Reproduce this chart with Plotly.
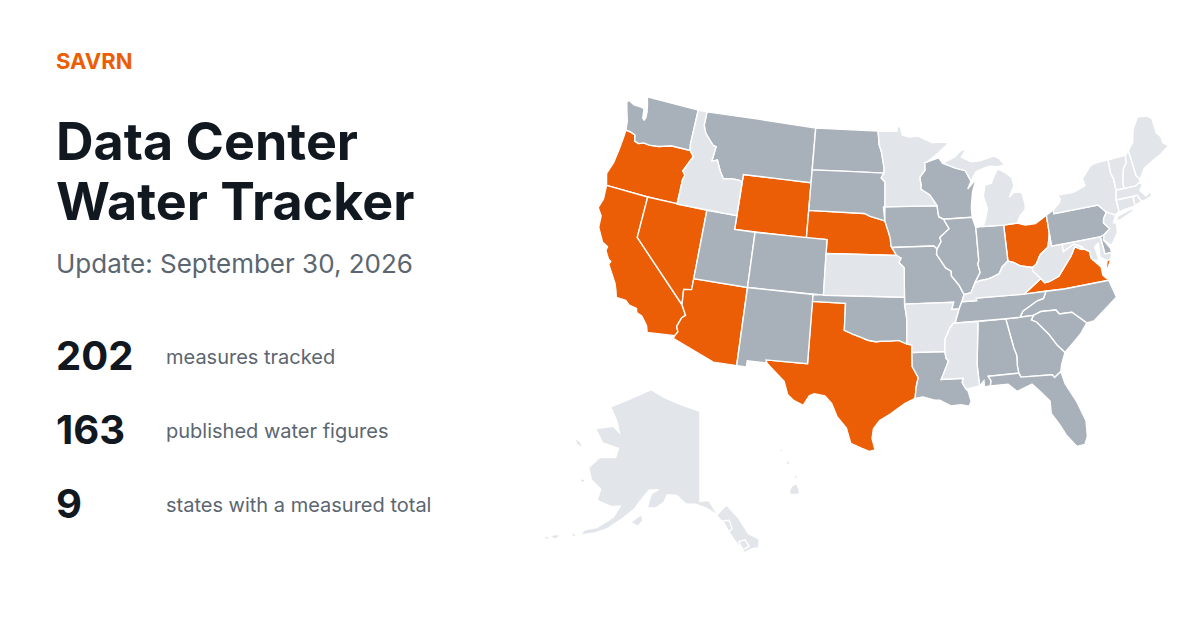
import plotly.graph_objects as go
from urllib.parse import quote

BRAND = "SAVRN"
TITLE_LINES = ["Data Center", "Water Tracker"]
UPDATE = "Update: September 30, 2026"
STAT_VALUES = ["202", "163", "9"]
STAT_LABELS = ["measures tracked", "published water figures", "states with a measured total"]

MEASURED = ["OR", "CA", "NV", "AZ", "WY", "NE", "TX", "OH", "VA"]
PUBLISHED = ["WA", "MT", "ND", "SD", "UT", "CO", "NM", "IA", "MO", "OK", "LA", "WI", "IL", "IN", "PA",
             "NC", "SC", "GA", "AL", "FL", "TN", "DE"]
OTHER = ["ID", "MN", "KS", "AR", "MS", "MI", "KY", "WV", "NY", "NJ", "CT", "RI", "MA", "VT", "NH", "ME", "MD"]

# State outlines, lon/lat
WA = [(-122.76,49),(-117.03,49),(-117.04,46.42),(-116.92,45.99),(-118.98,46),(-119.3,45.93),(-120.2,45.73),(-121.2,45.65),(-121.8,45.7),(-122.3,45.55),(-122.75,45.65),(-122.9,46.08),(-123.4,46.2),(-123.95,46.24),(-124.05,46.7),(-124.1,46.9),(-124.4,47.5),(-124.73,48.17),(-124.6,48.38),(-123.9,48.17),(-123.1,48.15),(-122.75,48.1),(-122.6,47.4),(-122.4,47.3),(-122.3,47.5),(-122.35,47.95),(-122.5,48.4)]
OR = [(-124.55,42.84),(-124.2,42),(-120,42),(-117.03,42),(-117.03,43.8),(-116.9,44.15),(-117.2,44.44),(-116.85,45),(-116.47,45.6),(-116.92,45.99),(-118.98,46),(-119.3,45.93),(-120.2,45.73),(-121.2,45.65),(-121.8,45.7),(-122.3,45.55),(-122.75,45.65),(-122.9,46.08),(-123.4,46.2),(-123.95,46.24),(-123.97,45.7),(-124.05,44.7),(-124.2,43.7)]
CA = [(-124.2,42),(-120,42),(-120,39),(-114.63,35),(-114.14,34.3),(-114.43,34.08),(-114.72,33.4),(-114.52,33.03),(-114.72,32.72),(-117.12,32.53),(-117.3,33),(-117.9,33.6),(-118.4,33.75),(-118.5,34.03),(-119.2,34.15),(-119.6,34.42),(-120.47,34.45),(-120.65,34.9),(-120.9,35.4),(-121.9,36.6),(-121.8,36.85),(-122.05,36.95),(-122.5,37.5),(-122.45,37.8),(-123,38),(-123.75,38.95),(-123.85,39.8),(-124.35,40.3),(-124.1,41)]
NV = [(-120,42),(-114.04,42),(-114.04,36.2),(-114.75,36.1),(-114.63,35),(-120,39)]
AZ = [(-114.04,37),(-109.05,37),(-109.05,31.33),(-111.07,31.33),(-114.81,32.5),(-114.72,32.72),(-114.52,33.03),(-114.72,33.4),(-114.43,34.08),(-114.14,34.3),(-114.63,35),(-114.75,36.1),(-114.04,36.2)]
UT = [(-114.04,42),(-111.05,42),(-111.05,41),(-109.05,41),(-109.05,37),(-114.04,37)]
ID = [(-117.03,49),(-116.05,49),(-116.05,48),(-115.7,47.45),(-114.7,46.7),(-114.35,46.65),(-114.5,45.55),(-113.95,45.7),(-113.45,44.95),(-113,44.45),(-112.3,44.55),(-111.5,44.55),(-111.05,44.48),(-111.05,42),(-117.03,42),(-117.03,43.8),(-116.9,44.15),(-117.2,44.44),(-116.85,45),(-116.47,45.6),(-116.92,45.99),(-117.04,46.42)]
MT = [(-116.05,49),(-104.05,49),(-104.05,45),(-111.05,45),(-111.05,44.48),(-111.5,44.55),(-112.3,44.55),(-113,44.45),(-113.45,44.95),(-113.95,45.7),(-114.5,45.55),(-114.35,46.65),(-114.7,46.7),(-115.7,47.45),(-116.05,48)]
WY = [(-111.05,45),(-104.05,45),(-104.05,41),(-111.05,41)]
CO = [(-109.05,41),(-102.05,41),(-102.05,37),(-109.05,37)]
NM = [(-109.05,37),(-103,37),(-103.04,32),(-106.62,32),(-106.53,31.78),(-108.21,31.78),(-108.21,31.33),(-109.05,31.33)]
ND = [(-104.05,49),(-97.23,49),(-97.1,48),(-96.85,47.5),(-96.55,46.3),(-96.56,45.94),(-104.05,45.94)]
SD = [(-104.05,45.94),(-96.56,45.94),(-96.85,45.6),(-96.45,45.3),(-96.45,43.5),(-96.6,43.5),(-96.45,42.49),(-97.9,42.8),(-98.5,43),(-104.05,43)]
NE = [(-104.05,43),(-98.5,43),(-97.9,42.8),(-96.45,42.49),(-96.1,41.7),(-95.9,41.2),(-95.85,40.7),(-95.31,40),(-102.05,40),(-102.05,41),(-104.05,41)]
KS = [(-102.05,40),(-95.31,40),(-94.9,39.8),(-95.1,39.5),(-94.61,39.11),(-94.62,37),(-102.05,37)]
OK = [(-103,37),(-94.62,37),(-94.62,36.5),(-94.43,35.4),(-94.48,33.64),(-95.2,33.9),(-96,33.85),(-96.6,33.85),(-97.2,33.8),(-97.9,33.9),(-98.5,34.1),(-99.2,34.3),(-100,34.56),(-100,36.5),(-103,36.5)]
TX = [(-103.04,36.5),(-100,36.5),(-100,34.56),(-99.2,34.3),(-98.5,34.1),(-97.9,33.9),(-97.2,33.8),(-96.6,33.85),(-96,33.85),(-95.2,33.9),(-94.48,33.64),(-94.04,33.55),(-94.04,33.02),(-94.04,32),(-93.55,31.2),(-93.75,30.5),(-93.85,29.7),(-94.7,29.35),(-95.1,29.1),(-95.9,28.6),(-96.8,28.1),(-97.3,27.5),(-97.4,26.8),(-97.15,25.96),(-97.6,25.85),(-98.2,26.05),(-99.1,26.4),(-99.5,27.5),(-100.3,28.3),(-100.8,29.25),(-101.4,29.77),(-102.3,29.88),(-102.7,29.7),(-103.15,28.98),(-104,29.3),(-104.5,29.65),(-104.9,30.6),(-106,31.4),(-106.53,31.78),(-106.62,32),(-103.04,32)]
MN = [(-97.23,49),(-95.15,49),(-95.15,49.38),(-94.8,49.3),(-94.6,48.7),(-93.8,48.55),(-92.95,48.62),(-92,48.3),(-91.4,48.07),(-90.75,48.1),(-89.6,48),(-90.8,47.3),(-92,46.7),(-92.29,46.66),(-92.29,46.1),(-92.85,45.6),(-92.75,45),(-92.8,44.75),(-91.9,44.3),(-91.22,43.5),(-96.45,43.5),(-96.45,45.3),(-96.85,45.6),(-96.56,45.94),(-96.55,46.3),(-96.85,47.5),(-97.1,48)]
IA = [(-96.45,43.5),(-91.22,43.5),(-91.1,42.7),(-90.64,42.5),(-90.15,41.8),(-91.1,41.2),(-91,40.9),(-91.42,40.38),(-91.73,40.61),(-95.77,40.58),(-95.85,40.7),(-95.9,41.2),(-96.1,41.7),(-96.45,42.49)]
MO = [(-95.77,40.58),(-91.73,40.61),(-91.42,40.38),(-91.5,40),(-90.7,39),(-90.2,38.75),(-90.2,38.4),(-89.55,37.7),(-89.15,37),(-89.4,36.5),(-89.7,36),(-90.37,36),(-90.15,36.5),(-94.62,36.5),(-94.62,37),(-94.61,39.11),(-95.1,39.5),(-94.9,39.8),(-95.31,40)]
AR = [(-94.62,36.5),(-90.15,36.5),(-90.37,36),(-89.7,36),(-90.1,35.1),(-90.6,34.7),(-91.1,33.9),(-91.17,33),(-94.04,33.02),(-94.04,33.55),(-94.48,33.64),(-94.43,35.4)]
LA = [(-94.04,33.02),(-91.17,33),(-91.1,32.5),(-90.9,32.3),(-91.6,31),(-89.73,31),(-89.85,30.7),(-89.55,30.2),(-89.4,30.05),(-89.2,29.3),(-89.4,28.95),(-90.1,29.1),(-90.9,29.05),(-91.8,29.5),(-92.3,29.55),(-93.2,29.78),(-93.85,29.7),(-93.75,30.5),(-93.55,31.2),(-94.04,32)]
MS = [(-91.17,33),(-91.1,33.9),(-90.6,34.7),(-90.3,35),(-88.2,35),(-88.1,34.9),(-88.47,31.9),(-88.4,30.35),(-89.55,30.2),(-89.85,30.7),(-89.73,31),(-91.6,31),(-90.9,32.3),(-91.1,32.5)]
AL = [(-88.2,35),(-85.6,35),(-85.18,32.87),(-85,32.3),(-85.05,31.55),(-85,31),(-87.6,31),(-87.4,30.65),(-87.5,30.3),(-88,30.25),(-88,30.7),(-88.4,30.35),(-88.47,31.9),(-88.1,34.9)]
TN = [(-89.7,36),(-89.4,36.5),(-88.05,36.5),(-88.07,36.68),(-83.68,36.6),(-81.68,36.59),(-82,36.1),(-82.6,36),(-84,35.4),(-84.32,34.99),(-85.6,35),(-90.3,35),(-90.1,35.1)]
KY = [(-89.4,36.5),(-89.15,37),(-88.5,37.1),(-88.05,37.8),(-87.6,37.9),(-86.8,37.98),(-86.3,38.1),(-85.75,38.27),(-85.4,38.73),(-84.8,39.1),(-84.3,38.95),(-83.65,38.63),(-82.6,38.42),(-82.6,38.17),(-81.97,37.54),(-83.68,36.6),(-88.07,36.68),(-88.05,36.5)]
IL = [(-90.64,42.5),(-87.8,42.5),(-87.53,41.72),(-87.53,39.35),(-87.65,39.1),(-87.5,38.5),(-88.05,37.8),(-88.5,37.1),(-89.15,37),(-89.55,37.7),(-90.2,38.4),(-90.2,38.75),(-90.7,39),(-91.5,40),(-91.42,40.38),(-91,40.9),(-91.1,41.2),(-90.15,41.8)]
IN = [(-87.53,41.72),(-87.2,41.76),(-86.82,41.76),(-84.8,41.7),(-84.8,39.1),(-85.4,38.73),(-85.75,38.27),(-86.3,38.1),(-86.8,37.98),(-87.6,37.9),(-88.05,37.8),(-87.5,38.5),(-87.65,39.1),(-87.53,39.35)]
OH = [(-84.8,41.7),(-83.45,41.73),(-82.7,41.5),(-81.7,41.5),(-80.52,41.98),(-80.52,40.64),(-80.85,39.7),(-81.7,39.25),(-82.2,38.6),(-82.6,38.42),(-83.65,38.63),(-84.3,38.95),(-84.8,39.1)]
MI_LOWER = [(-86.82,41.76),(-84.8,41.7),(-83.45,41.73),(-83.1,42.2),(-82.5,42.6),(-82.42,43),(-82.6,43.9),(-83.4,43.95),(-83.9,43.65),(-83.3,44.4),(-83.4,45.05),(-84.1,45.5),(-84.75,45.78),(-85.1,45.4),(-85.55,44.8),(-86.25,44.7),(-86.5,43.9),(-86.2,43),(-86.6,42.1)]
MI_UPPER = [(-90.4,46.55),(-89.1,46.95),(-88.4,47.37),(-87.8,47.45),(-88.4,46.9),(-87.4,46.5),(-86.5,46.5),(-85,46.75),(-84.4,46.5),(-84,46),(-84.7,45.95),(-85.6,46.05),(-86.4,45.9),(-87,45.75),(-87.6,45.1),(-88.1,45.9),(-89.1,46.13)]
WI = [(-92.29,46.66),(-92,46.7),(-90.8,46.95),(-90.4,46.55),(-89.1,46.13),(-88.1,45.9),(-87.6,45.1),(-88,44.55),(-87.05,45.25),(-87.55,44.3),(-87.8,43.2),(-87.8,42.5),(-90.64,42.5),(-91.1,42.7),(-91.22,43.5),(-91.9,44.3),(-92.8,44.75),(-92.75,45),(-92.85,45.6),(-92.29,46.1)]
GA = [(-85.6,35),(-84.32,34.99),(-83.1,35),(-83.35,34.7),(-82.9,34.48),(-82,33.5),(-81.4,32.6),(-80.85,32.03),(-81.3,31.2),(-81.45,30.72),(-82.05,30.36),(-82.2,30.57),(-84.86,30.7),(-85,31),(-85.05,31.55),(-85,32.3),(-85.18,32.87)]
FL = [(-87.6,31),(-85,31),(-84.86,30.7),(-82.2,30.57),(-82.05,30.36),(-81.45,30.72),(-81.25,29.8),(-80.55,28.4),(-80.05,26.9),(-80.15,25.75),(-80.45,25.2),(-81.1,25.15),(-81.8,26.1),(-82.2,26.9),(-82.75,27.8),(-82.7,28.7),(-83.4,29.5),(-84,30.1),(-85.3,29.7),(-86,30.3),(-87.5,30.3),(-87.4,30.65)]
SC = [(-83.1,35),(-82.4,35.2),(-81.05,35.15),(-80.8,34.82),(-79.68,34.8),(-78.55,33.86),(-79.2,33.2),(-79.9,32.7),(-80.85,32.03),(-81.4,32.6),(-82,33.5),(-82.9,34.48),(-83.35,34.7)]
NC = [(-84.32,34.99),(-84,35.4),(-82.6,36),(-82,36.1),(-81.68,36.59),(-80,36.54),(-75.87,36.55),(-75.5,35.25),(-76.5,34.7),(-77.9,33.9),(-78.55,33.86),(-79.68,34.8),(-80.8,34.82),(-81.05,35.15),(-82.4,35.2),(-83.1,35)]
VA = [(-83.68,36.6),(-81.68,36.59),(-80,36.54),(-75.87,36.55),(-76.3,37),(-76.3,37.6),(-76.9,38.2),(-77.05,38.4),(-77.05,38.85),(-77.5,39.1),(-77.83,39.13),(-78.35,39.4),(-78.87,38.77),(-79.3,38.4),(-80.3,37.5),(-81.2,37.25),(-81.68,37.2),(-81.97,37.54)]
VA_SHORE = [(-75.95,37.15),(-75.65,37.95),(-75.25,38.03),(-75.6,37.55)]
WV = [(-82.6,38.17),(-81.97,37.54),(-81.68,37.2),(-81.2,37.25),(-80.3,37.5),(-79.3,38.4),(-78.87,38.77),(-78.35,39.4),(-77.83,39.13),(-77.72,39.32),(-78.4,39.6),(-79.48,39.2),(-79.48,39.72),(-80.52,39.72),(-80.52,40.64),(-80.85,39.7),(-81.7,39.25),(-82.2,38.6),(-82.6,38.42)]
MD = [(-79.48,39.72),(-75.79,39.72),(-75.7,38.46),(-75.05,38.45),(-75.25,38.03),(-75.65,37.95),(-76.2,38.3),(-76.1,39.3),(-76.5,39.1),(-76.35,38.05),(-76.9,38.2),(-77.05,38.4),(-77.05,38.85),(-77.5,39.1),(-77.72,39.32),(-78.4,39.6),(-79.48,39.2)]
DE = [(-75.79,39.72),(-75.42,39.8),(-75.55,39.45),(-75.1,38.8),(-75.05,38.45),(-75.7,38.46)]
PA = [(-80.52,41.98),(-79.76,42.27),(-79.76,42),(-75.35,42),(-74.7,41.36),(-75.1,40.95),(-75.2,40.65),(-74.73,40.15),(-75.42,39.8),(-75.79,39.72),(-80.52,39.72)]
NJ = [(-74.7,41.36),(-73.9,41),(-74.25,40.5),(-74,40.45),(-74.1,39.75),(-74.9,38.95),(-75.55,39.45),(-75.42,39.8),(-74.73,40.15),(-75.2,40.65),(-75.1,40.95)]
NY = [(-79.76,42.27),(-79.05,42.7),(-78.9,42.95),(-79.05,43.27),(-77.5,43.25),(-76.2,43.55),(-76.3,44.1),(-75.3,44.85),(-74.7,45),(-73.34,45),(-73.4,44),(-73.25,43.6),(-73.27,42.75),(-73.5,42.05),(-73.48,41.2),(-73.73,41.1),(-73.9,41),(-74.7,41.36),(-75.35,42),(-79.76,42)]
NY_LI = [(-74,40.6),(-73.7,40.9),(-72.3,41.15),(-71.9,41.05),(-73.5,40.6)]
VT = [(-73.34,45),(-71.5,45.01),(-71.6,44.5),(-72.05,44.1),(-72.45,43.1),(-72.46,42.73),(-73.27,42.75),(-73.25,43.6),(-73.4,44)]
NH = [(-71.5,45.01),(-71.08,45.3),(-70.98,43.4),(-70.7,43.07),(-70.82,42.87),(-71.3,42.7),(-72.46,42.73),(-72.45,43.1),(-72.05,44.1),(-71.6,44.5)]
ME = [(-71.08,45.3),(-70.4,45.8),(-70.25,46.2),(-70,46.7),(-69.23,47.46),(-68.3,47.36),(-67.8,47.07),(-67.78,45.94),(-67.45,45.6),(-67.45,45.15),(-66.97,44.82),(-68,44.4),(-69,44.1),(-70,43.75),(-70.7,43.07),(-70.98,43.4)]
MA = [(-73.5,42.05),(-73.27,42.75),(-72.46,42.73),(-71.3,42.7),(-70.82,42.87),(-70.6,42.65),(-71,42.3),(-70.55,41.8),(-70.05,42.05),(-70,41.7),(-70.65,41.55),(-71.12,41.5),(-71.38,42.02),(-71.8,42.02)]
RI = [(-71.8,42.02),(-71.38,42.02),(-71.12,41.5),(-71.85,41.32)]
CT = [(-73.5,42.05),(-71.8,42.02),(-71.85,41.32),(-72.9,41.25),(-73.73,41.1),(-73.48,41.2)]
AK_MAIN = [(-141,69.65),(-141,60.3),(-139.1,60.35),(-137.5,58.9),(-135.5,59.8),(-133.4,58.4),(-131.8,56.6),(-130,55.9),(-130.3,55),(-131.5,55),(-133,54.7),(-134.5,56),(-136.5,58),(-138,59),(-139.8,59.6),(-142,60),(-144,60),(-146,60.8),(-148,60.8),(-148.5,60),(-150,59.3),(-151.8,59.2),(-151.4,60.7),(-150,61.2),(-152,61),(-153.5,59.7),(-154.3,58.8),(-156.5,57.4),(-158.5,56.2),(-160.5,55.4),(-163,54.7),(-162.5,55.4),(-160.5,56),(-158,57.5),(-157.2,58.8),(-158.9,58.5),(-162,58.7),(-162,59.9),(-164.5,60.5),(-166,61.6),(-165,62.5),(-164.5,63),(-161,63.5),(-161,64.5),(-165,64.5),(-168,65.6),(-164,66.5),(-162,66.1),(-163.5,67.1),(-166.5,68.3),(-163,69.5),(-159,70.7),(-156.6,71.35),(-152,70.8),(-148,70.4),(-144,70)]
AK_KODIAK = [(-154.5,57.4),(-153,57.1),(-152.2,57.8),(-152.7,58.4)]
AK_NUNIVAK = [(-167,60.2),(-166,59.8),(-165.6,60.3)]
AK_STLAWRENCE = [(-171.7,63.8),(-170.5,63.3),(-168.8,63.2),(-170,63.7)]
AK_UNIMAK = [(-165,54.7),(-163.3,54.6),(-164,54.3)]
AK_UNALASKA = [(-168,53.5),(-166.8,53.4),(-166.2,54),(-167,53.9)]
AK_UMNAK = [(-169,52.9),(-168,53.1),(-167.8,53.5),(-168.5,53.3)]
AK_ATKA = [(-175,52.1),(-174,52),(-172.8,52.4),(-174.3,52.4)]
AK_ADAK = [(-177.7,51.6),(-176.3,51.7),(-176.5,52)]
AK_PRINCEWALES = [(-133.8,55.9),(-133.2,55),(-132,55.3),(-132.6,56)]
AK_BARANOF = [(-136.5,58.2),(-135.5,57),(-134.8,57.3),(-135.2,58.2)]
HI_BIG = [(-156.06,19.73),(-155.83,20.27),(-155.2,19.95),(-154.8,19.5),(-155.6,18.95),(-155.9,19.1)]
HI_MAUI = [(-156.7,20.9),(-156.25,20.93),(-155.98,20.75),(-156.4,20.58)]
HI_OAHU = [(-158.28,21.57),(-157.97,21.7),(-157.65,21.3),(-158.1,21.3)]
HI_KAUAI = [(-159.78,22.06),(-159.4,22.23),(-159.3,21.95),(-159.6,21.9)]

STATE_RINGS = {
    "WA":[WA],"OR":[OR],"CA":[CA],"NV":[NV],"AZ":[AZ],"UT":[UT],"ID":[ID],"MT":[MT],"WY":[WY],"CO":[CO],"NM":[NM],
    "ND":[ND],"SD":[SD],"NE":[NE],"KS":[KS],"OK":[OK],"TX":[TX],"MN":[MN],"IA":[IA],"MO":[MO],"AR":[AR],"LA":[LA],
    "MS":[MS],"AL":[AL],"TN":[TN],"KY":[KY],"IL":[IL],"IN":[IN],"OH":[OH],"MI":[MI_LOWER,MI_UPPER],"WI":[WI],"GA":[GA],
    "FL":[FL],"SC":[SC],"NC":[NC],"VA":[VA,VA_SHORE],"WV":[WV],"MD":[MD],"DE":[DE],"PA":[PA],"NJ":[NJ],"NY":[NY,NY_LI],
    "VT":[VT],"NH":[NH],"ME":[ME],"MA":[MA],"RI":[RI],"CT":[CT],
    "AK":[AK_MAIN,AK_KODIAK,AK_NUNIVAK,AK_STLAWRENCE,AK_UNIMAK,AK_UNALASKA,AK_UMNAK,AK_ATKA,AK_ADAK,AK_PRINCEWALES,AK_BARANOF],
    "HI":[HI_BIG,HI_MAUI,HI_OAHU,HI_KAUAI],
}

ORANGE = "#eb5e05"
SLATE = "#a8b0b9"
LIGHT = "#e2e5ea"
INK = "#11181f"
MUTED = "#5b6670"
PAGE_INSET = 8  # the page's own body margin


def clockwise(ring):
    area = sum(a[0] * b[1] - b[0] * a[1] for a, b in zip(ring, ring[1:] + ring[:1]))
    ordered = list(reversed(ring)) if area > 0 else list(ring)
    return [list(p) for p in ordered + ordered[:1]]


geojson = {"type": "FeatureCollection", "features": [
    {"type": "Feature", "id": k, "properties": {},
     "geometry": {"type": "MultiPolygon", "coordinates": [[clockwise(r)] for r in rings]}}
    for k, rings in STATE_RINGS.items()]}


def trace(locs, values, geo):
    return go.Choropleth(geojson=geojson, locations=locs, z=values, showscale=False, geo=geo, zmin=0, zmax=2,
                         colorscale=[[0, LIGHT], [0.5, SLATE], [1, ORANGE]], hoverinfo="location",
                         marker=dict(line=dict(color="white", width=1.4)))


lower48 = MEASURED + PUBLISHED + OTHER
z48 = [2] * len(MEASURED) + [1] * len(PUBLISHED) + [0] * len(OTHER)
fig = go.Figure([trace(lower48, z48, "geo"), trace(["AK"], [0], "geo2"), trace(["HI"], [0], "geo3")])


def px(x, y):
    return (x - PAGE_INSET) / 1200, 1 - (y - PAGE_INSET) / 630


def geo_opts(x0, x1, y0, y1, rot, par, lons, lats, center, roll=0, scale=1, rot_lat=0):
    left, top = px(x0, y0)
    right, bottom = px(x1, y1)
    return dict(visible=False, bgcolor="rgba(0,0,0,0)", lonaxis=dict(range=lons), lataxis=dict(range=lats),
                center=dict(lon=center[0], lat=center[1]),
                projection=dict(type="albers", rotation=dict(lon=rot, lat=rot_lat, roll=roll), parallels=par, scale=scale),
                domain=dict(x=[left, right], y=[bottom, top]))


fig.update_layout(
    width=1200, height=630, margin=dict(l=0, r=0, t=0, b=0), paper_bgcolor="white", plot_bgcolor="white",
    font=dict(family="Inter"), showlegend=False,
    geo=geo_opts(590, 1176, 65, 485, -96, [29.5, 45.5], [-125, -66], [18, 56], (-96.6, 38.6), scale=1.352),
    geo2=geo_opts(524, 778, 368, 574, -141, [55, 65], [-180, -129], [51, 72], (-152.3, 63), scale=1.17),
    geo3=geo_opts(758, 818, 443, 503, -157.3, [5, 10], [-161, -154], [18, 23], (-157.3, 20.6), roll=-38, rot_lat=20.6, scale=1.3),
)


def text(x, y, s, size, color, weight=400):
    xp, yp = px(x, y)
    fig.add_annotation(x=xp, y=yp, xref="paper", yref="paper", xanchor="left", yanchor="middle", text=s,
                       showarrow=False, align="left", xshift=-3,
                       font=dict(family="Inter", size=size, color=color, weight=weight))


text(57, 61, BRAND, 22, ORANGE, 700)
text(57, 141, TITLE_LINES[0], 52, INK, 700)
text(57, 201, TITLE_LINES[1], 52, INK, 700)
text(57, 263, UPDATE, 26, MUTED)
for y, v, l in zip([355, 429, 503], STAT_VALUES, STAT_LABELS):
    text(57, y, v, 40, INK, 700)
    text(167, y + 2, l, 20, MUTED)

EMPTY_TOPOLOGY = quote('{"type":"Topology","objects":{},"arcs":[]}')
fig.write_html("out.html", config={"topojsonURL": "data:application/json," + EMPTY_TOPOLOGY + "#"})
